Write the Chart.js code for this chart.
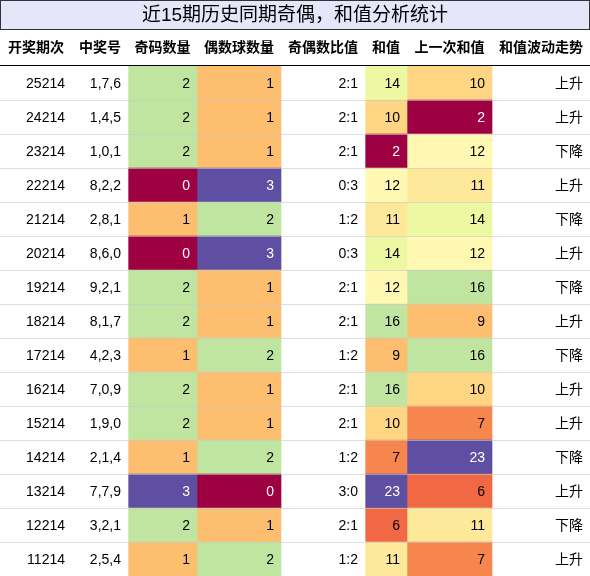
<!DOCTYPE html>
<html><head><meta charset="utf-8">
<script src="https://cdn.jsdelivr.net/npm/chart.js@4/dist/chart.umd.min.js"></script>
<style>html,body{margin:0;padding:0;background:#fff}#w{width:590px;height:576px}</style>
</head><body><div id="w"><canvas id="c"></canvas></div>
<script>
const title = "近15期历史同期奇偶，和值分析统计";
const headers = ["开奖期次","中奖号","奇码数量","偶数球数量","奇偶数比值","和值","上一次和值","和值波动走势"];
const periods = ["25214","24214","23214","22214","21214","20214","19214","18214","17214","16214","15214","14214","13214","12214","11214"];
const numbers = ["1,7,6","1,4,5","1,0,1","8,2,2","2,8,1","8,6,0","9,2,1","8,1,7","4,2,3","7,0,9","1,9,0","2,1,4","7,7,9","3,2,1","2,5,4"];
const oddCount = [2,2,2,0,1,0,2,2,1,2,2,1,3,2,1];
const evenCount = [1,1,1,3,2,3,1,1,2,1,1,2,0,1,2];
const ratios = ["2:1","2:1","2:1","0:3","1:2","0:3","2:1","2:1","1:2","2:1","2:1","1:2","3:0","2:1","1:2"];
const sums = [14,10,2,12,11,14,12,16,9,16,10,7,23,6,11];
const prevSums = [10,2,12,11,14,12,16,9,16,10,7,23,6,11,7];
const trends = ["上升","上升","下降","上升","下降","上升","下降","上升","下降","上升","上升","下降","上升","下降","上升"];

const edges = [0,72,128,197,281,365,407,492,590];
const stops = ["#9e0142","#d53e4f","#f46d43","#fdae61","#fee08b","#ffffbf","#e6f598","#abdda4","#66c2a5","#3288bd","#5e4fa2"];
function hex(h){return [1,3,5].map(i=>parseInt(h.substr(i,2),16));}
function spectral(t){t=Math.max(0,Math.min(1,t));const p=t*10,i=Math.min(9,Math.floor(p)),f=p-i;const a=hex(stops[i]),b=hex(stops[i+1]);return a.map((v,k)=>Math.round(v+(b[k]-v)*f));}
function css(c){return `rgb(${c[0]},${c[1]},${c[2]})`;}
function lum(c){return 0.299*c[0]+0.587*c[1]+0.114*c[2];}
const cntCol = v=>spectral(v/3);
const sumCol = v=>spectral((v-2)/21);

const cols = [
 {txt:periods},{txt:numbers},
 {txt:oddCount,col:oddCount.map(cntCol)},
 {txt:evenCount,col:evenCount.map(cntCol)},
 {txt:ratios},
 {txt:sums,col:sums.map(sumCol)},
 {txt:prevSums,col:prevSums.map(sumCol)},
 {txt:trends}
];
const datasets = cols.map((c,j)=>({
  data: periods.map(()=>[edges[j],edges[j+1]]),
  backgroundColor: c.col ? c.col.map(css) : "#ffffff",
  borderWidth:0, categoryPercentage:1, barPercentage:1, grouped:false
}));
const FONT = '"Liberation Sans","Noto Sans CJK SC",sans-serif';
const plug = {id:'tbl',afterDatasetsDraw(ch){
  const ctx=ch.ctx, x=ch.scales.x, y=ch.scales.y;
  const rowH = y.getPixelForValue(1)-y.getPixelForValue(0);
  ctx.save();
  // title
  ctx.fillStyle="#e6e6fa";ctx.fillRect(0.5,0.5,589,29);
  ctx.strokeStyle="#333";ctx.lineWidth=1;ctx.strokeRect(0.5,0.5,589,29);
  ctx.fillStyle="#000";ctx.font='19px '+FONT;ctx.textAlign="center";ctx.textBaseline="middle";
  ctx.fillText(title,295,16);
  // headers
  ctx.font='bold 14px '+FONT;
  headers.forEach((h,j)=>{ctx.fillText(h,(x.getPixelForValue(edges[j])+x.getPixelForValue(edges[j+1]))/2,48);});
  ctx.strokeStyle="#000";ctx.beginPath();ctx.moveTo(0,65.5);ctx.lineTo(590,65.5);ctx.stroke();
  // cells
  ctx.font='14px '+FONT;ctx.textAlign="right";
  periods.forEach((p,i)=>{
    const cy=y.getPixelForValue(i);
    cols.forEach((c,j)=>{
      let color="#000";
      if(c.col && lum(c.col[i])<120) color="#fff";
      ctx.fillStyle=color;
      ctx.fillText(String(c.txt[i]),x.getPixelForValue(edges[j+1])-7,cy+1);
    });
    if(i>0){ctx.strokeStyle="rgba(200,200,200,0.6)";ctx.beginPath();ctx.moveTo(0,Math.round(cy-rowH/2)+0.5);ctx.lineTo(590,Math.round(cy-rowH/2)+0.5);ctx.stroke();}
  });
  ctx.restore();
}};
new Chart(document.getElementById('c'),{
  type:'bar',
  data:{labels:periods,datasets},
  options:{indexAxis:'y',responsive:true,maintainAspectRatio:false,animation:false,
    layout:{padding:{top:66,left:0,right:0,bottom:0}},
    plugins:{legend:{display:false},tooltip:{enabled:false},title:{display:false}},
    scales:{x:{type:'linear',min:0,max:590,display:false},
            y:{type:'category',display:false,offset:true}}},
  plugins:[plug]
});
</script></body></html>
